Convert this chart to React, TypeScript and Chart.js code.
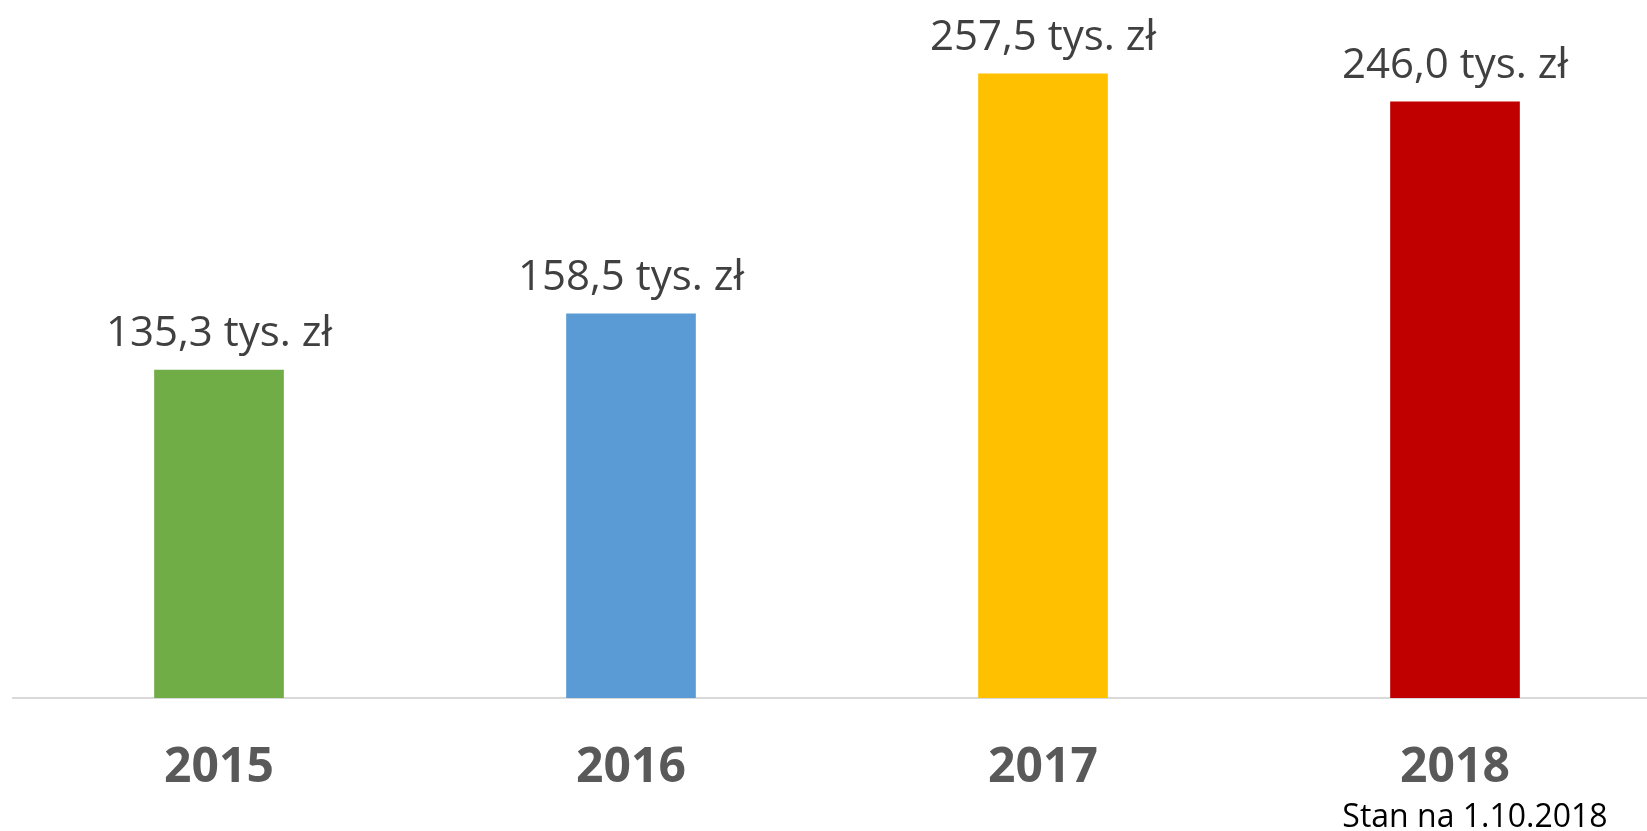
import React, { useEffect, useRef } from "react";
import { Chart, registerables } from "chart.js";

Chart.register(...registerables);

const categories = ["2015", "2016", "2017", "2018"];
const values = [135.3, 158.5, 257.5, 246.0];
const barColors = ["#70AD47", "#5B9BD5", "#FFC000", "#C00000"];
const footnote = "Stan na 1.10.2018";

const fmt = (v: number) => v.toFixed(1).replace(".", ",") + " tys. zł";

const labelPlugin = {
  id: "valueLabels",
  afterDatasetsDraw(chart: any) {
    const ctx = chart.ctx;
    const meta = chart.getDatasetMeta(0);
    ctx.save();
    ctx.font = "42px 'Open Sans'";
    ctx.fillStyle = "#404040";
    ctx.textAlign = "center";
    ctx.textBaseline = "alphabetic";
    meta.data.forEach((bar: any, i: number) => {
      ctx.fillText(fmt(values[i]), bar.x, bar.y - 24);
    });
    const xs = chart.scales.x;
    ctx.font = "32px 'Open Sans'";
    ctx.fillStyle = "#000000";
    ctx.fillText(footnote, xs.getPixelForValue(3) + 20, 827);
    ctx.restore();
  },
};

export default function App() {
  const ref = useRef<HTMLCanvasElement>(null);
  useEffect(() => {
    if (!ref.current) return;
    const chart = new Chart(ref.current, {
      type: "bar",
      data: {
        labels: categories,
        datasets: [
          {
            data: values,
            backgroundColor: barColors,
            barThickness: 129,
          },
        ],
      },
      options: {
        responsive: false,
        animation: false,
        layout: { padding: { left: 13, right: 19, top: 0, bottom: 0 } },
        plugins: { legend: { display: false }, tooltip: { enabled: false } },
        scales: {
          y: { display: false, min: 0, max: 288 },
          x: {
            grid: { display: false, drawTicks: false },
            border: { display: true, color: "#d9d9d9", width: 2 },
            ticks: {
              color: "#595959",
              padding: 42,
              font: { family: "'Open Sans'", size: 48, weight: "bold" },
            },
            afterFit: (scale: any) => {
              scale.height = 831 - 698;
            },
          },
        },
      },
      plugins: [labelPlugin],
    });
    return () => chart.destroy();
  }, []);
  return (
    <div
      style={{
        position: "fixed",
        left: 0,
        top: 0,
        width: 1647,
        height: 831,
        overflow: "hidden",
        background: "#fff",
      }}
    >
      <canvas ref={ref} width={1680} height={831} style={{ display: "block" }} />
    </div>
  );
}
